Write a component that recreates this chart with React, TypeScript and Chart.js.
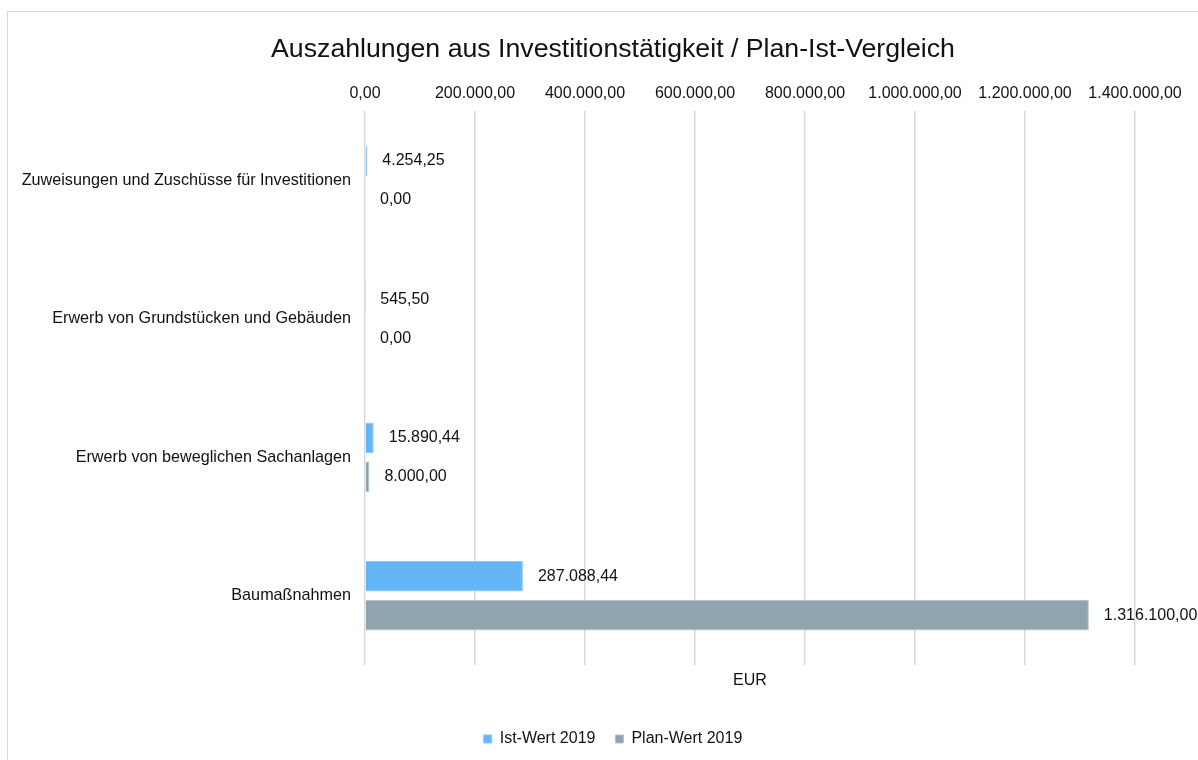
import React, { useEffect, useRef } from "react";
import { Chart, registerables } from "chart.js";

Chart.register(...registerables);

const categories = [
  "Zuweisungen und Zuschüsse für Investitionen",
  "Erwerb von Grundstücken und Gebäuden",
  "Erwerb von beweglichen Sachanlagen",
  "Baumaßnahmen",
];
const istWert2019 = [4254.25, 545.5, 15890.44, 287088.44];
const planWert2019 = [0, 0, 8000, 1316100];
const seriesNames = ["Ist-Wert 2019", "Plan-Wert 2019"];
const chartTitle = "Auszahlungen aus Investitionstätigkeit / Plan-Ist-Vergleich";
const axisTitle = "EUR";
const xMin = 0;
const xMax = 1400000;
const xStep = 200000;

const FONT = "'Liberation Sans', Arial, sans-serif";
const TEXT = "#111111";

function fmtDE(v: number): string {
  const [i, d] = Math.abs(v).toFixed(2).split(".");
  const s = i.replace(/\B(?=(\d{3})+(?!\d))/g, ".");
  return (v < 0 ? "-" : "") + s + "," + d;
}

const dataLabels = {
  id: "dataLabels",
  afterDatasetsDraw(chart: any) {
    const ctx = chart.ctx;
    ctx.save();
    ctx.font = `16px ${FONT}`;
    ctx.fillStyle = TEXT;
    ctx.textAlign = "left";
    ctx.textBaseline = "middle";
    chart.data.datasets.forEach((ds: any, di: number) => {
      const meta = chart.getDatasetMeta(di);
      if (meta.hidden) return;
      meta.data.forEach((el: any, i: number) => {
        ctx.fillText(fmtDE(ds.data[i]), el.x + 15, el.y);
      });
    });
    ctx.restore();
  },
};

export default function App() {
  const ref = useRef<HTMLCanvasElement>(null);
  useEffect(() => {
    if (!ref.current) return;
    const chart = new Chart(ref.current, {
      type: "bar",
      data: {
        labels: categories,
        datasets: [
          {
            label: seriesNames[0],
            data: istWert2019,
            backgroundColor: "#64b5f6",
            borderColor: "#8cc8f8",
            borderWidth: 1,
            categoryPercentage: 0.564,
            barPercentage: 0.78,
          },
          {
            label: seriesNames[1],
            data: planWert2019,
            backgroundColor: "#90a4ae",
            borderColor: "#b4c3ca",
            borderWidth: 1,
            categoryPercentage: 0.564,
            barPercentage: 0.78,
          },
        ],
      },
      options: {
        indexAxis: "y",
        animation: false,
        responsive: true,
        maintainAspectRatio: false,
        layout: { padding: 0 },
        plugins: {
          title: {
            display: true,
            text: chartTitle,
            color: TEXT,
            font: { family: FONT, size: 26.7, weight: "normal" },
            padding: { top: 22, bottom: 15 },
          },
          legend: {
            position: "bottom",
            labels: {
              boxWidth: 8,
              boxHeight: 8,
              padding: 20,
              color: TEXT,
              font: { family: FONT, size: 16 },
            },
          },
          tooltip: { enabled: false },
        },
        scales: {
          x: {
            type: "linear",
            position: "top",
            min: xMin,
            max: xMax,
            ticks: {
              stepSize: xStep,
              padding: 8,
              color: TEXT,
              font: { family: FONT, size: 16 },
              callback: (v: any) => fmtDE(Number(v)),
            },
            grid: { color: "#d9d9d9", lineWidth: 1.5, drawTicks: false },
            border: { display: false },
            afterFit: (axis: any) => {
              axis.height = 30;
            },
          },
          x2: {
            type: "linear",
            position: "bottom",
            min: xMin,
            max: xMax,
            ticks: { display: false },
            grid: { display: false, drawTicks: false },
            border: { display: false },
            title: {
              display: true,
              text: axisTitle,
              color: TEXT,
              font: { family: FONT, size: 16 },
              padding: { top: 4, bottom: 21 },
            },
            afterFit: (axis: any) => {
              axis.height = 46;
            },
          },
          y: {
            type: "category",
            ticks: {
              padding: 14,
              color: TEXT,
              font: { family: FONT, size: 16.2 },
            },
            grid: { display: false, drawTicks: false },
            border: { display: false },
            afterFit: (axis: any) => {
              axis.width = 357;
            },
          },
          yRight: {
            type: "linear",
            position: "right",
            ticks: { display: false },
            grid: { display: false, drawTicks: false },
            border: { display: false },
            afterFit: (axis: any) => {
              axis.width = 83;
            },
          },
        },
      },
      plugins: [dataLabels],
    } as any);
    return () => chart.destroy();
  }, []);

  return (
    <div
      style={{
        position: "fixed",
        left: 0,
        top: 0,
        width: 1198,
        height: 760,
        overflow: "hidden",
        background: "#ffffff",
      }}
    >
      <div
        style={{
          position: "absolute",
          left: 7,
          top: 11,
          width: 1215,
          height: 800,
          border: "1px solid #d9d9d9",
          boxSizing: "border-box",
        }}
      />
      <div
        style={{
          position: "absolute",
          left: 8,
          top: 12,
          width: 1210,
          height: 745,
        }}
      >
        <canvas ref={ref} />
      </div>
    </div>
  );
}
